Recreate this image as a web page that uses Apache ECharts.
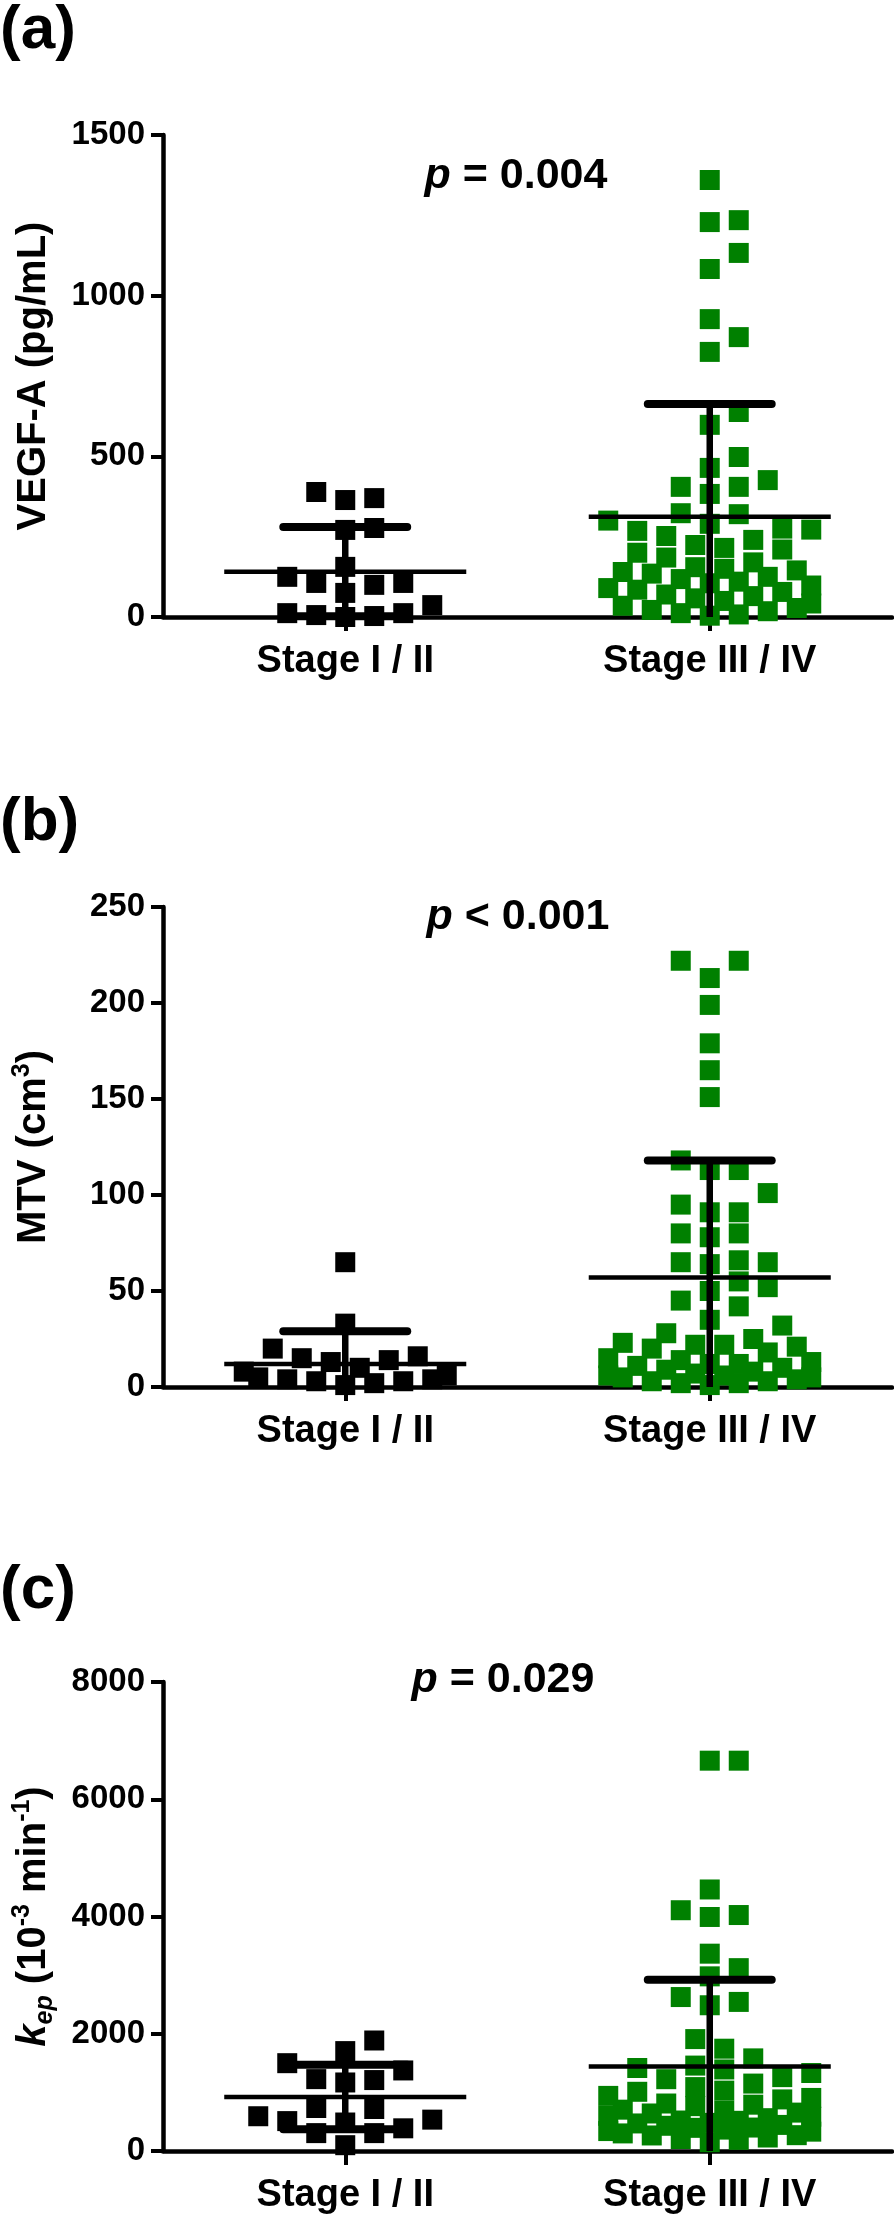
<!DOCTYPE html>
<html>
<head>
<meta charset="utf-8">
<script src="https://cdn.jsdelivr.net/npm/echarts@6/dist/echarts.min.js"></script>
<style>
html,body{margin:0;padding:0;background:#ffffff;}
#chart{width:894px;height:2215px;}
</style>
</head>
<body>
<div id="chart"></div>
<script>
// ---------------- DATA ----------------
const categories = ['Stage I / II', 'Stage III / IV'];
const panelLetters = ['(a)', '(b)', '(c)'];
const pValueTexts = ['{i|p} = 0.004', '{i|p} < 0.001', '{i|p} = 0.029'];
const yAxisMax = [1500, 250, 8000];
const yAxisInterval = [500, 50, 2000];

// (a) VEGF-A (pg/mL)
const vegfStage12 = [389, 370, 364, 277, 271, 156, 125, 106, 100, 106, 75, 37, 12, 6, 0, 3, 12];
const vegfStage34 = [1360, 1235, 1229, 1133, 1083, 927, 871, 825, 638, 598, 498, 464, 426, 405, 405, 383, 323, 320,
  300, 290, 275, 272, 268, 252, 240, 224, 215, 210, 200, 185, 170, 155, 150, 145, 140, 135, 125, 118, 110,
  105, 98, 90, 85, 78, 70, 65, 58, 50, 42, 35, 28, 22, 18, 12, 8, 4];
const vegfMean = [141, 312];
const vegfSD = [139, 351];

// (b) MTV (cm3)
const mtvStage12 = [65, 33, 20, 16, 15, 14, 13, 10, 8, 6, 5, 4, 4, 3, 3, 2, 1];
const mtvStage34 = [222, 222, 213, 199, 179, 165, 151, 118, 113, 113, 101, 95, 91, 91, 80, 80, 78, 66, 65, 65, 64,
  55, 52, 50, 45, 42, 35, 32, 28, 25, 23, 22, 22, 21, 20, 18, 15, 14, 13, 12, 12, 11, 10, 9, 8, 7, 6, 6,
  5, 5, 4, 3, 3, 2, 2, 1];
const mtvMean = [12, 57];
const mtvSD = [17, 61];

// (c) kep (10^-3 min^-1)
const kepStage12 = [1885, 1704, 1498, 1374, 1226, 1210, 1169, 733, 716, 593, 535, 510, 486, 387, 305, 305, 99];
const kepStage34 = [6658, 6658, 4461, 4107, 4025, 3992, 3366, 3119, 2979, 2626, 2543, 2486, 1909, 1745, 1580,
  1457, 1416, 1391, 1330, 1260, 1225, 1150, 1090, 1030, 1010, 940, 905, 880, 810, 790, 765, 705, 690, 655,
  640, 600, 585, 560, 520, 515, 480, 470, 445, 430, 400, 395, 365, 340, 330, 300, 270, 265, 230, 205, 190, 150];
const kepMean = [922, 1440];
const kepSD = [551, 1482];

// ---------------- LAYOUT / STYLE ----------------
const FONT = '"Liberation Sans", Arial, Helvetica, sans-serif';
const GREEN = '#008000';
const GRID_LEFT = 163;
const GRID_W = 729;
const SYMBOL = 20;

const panels = [
  { top: 135, height: 482, s12: vegfStage12, s34: vegfStage34, mean: vegfMean, sd: vegfSD,
    name: '{n|VEGF-A (pg/mL)}', pX: 516, pY: 176, letterY: 0 },
  { top: 907, height: 480, s12: mtvStage12, s34: mtvStage34, mean: mtvMean, sd: mtvSD,
    name: '{n|MTV (cm}{sup|3}{n|)}', pX: 518, pY: 917, letterY: 792 },
  { top: 1682, height: 478, s12: kepStage12, s34: kepStage34, mean: kepMean, sd: kepSD,
    name: '{i|k}{sub|ep}{n| (10}{sup|-3}{n| min}{sup|-1}{n|)}', pX: 503, pY: 1680, letterY: 1560 }
];

const nameRich = {
  n: { fontSize: 40, fontWeight: 'bold', fontFamily: FONT, color: '#000', lineHeight: 48 },
  i: { fontSize: 40, fontWeight: 'bold', fontStyle: 'italic', fontFamily: FONT, color: '#000', lineHeight: 48 },
  sup: { fontSize: 25, fontWeight: 'bold', fontFamily: FONT, color: '#000', lineHeight: 25, verticalAlign: 'top' },
  sub: { fontSize: 25, fontWeight: 'bold', fontStyle: 'italic', fontFamily: FONT, color: '#000', lineHeight: 25, verticalAlign: 'bottom' }
};

// bounded beeswarm: points placed bottom-up in half-step slots within a fixed width;
// the free slot nearest the centre is used, otherwise the slot with least overlap
function swarm(values, center, pxH, max) {
  const step = 14.5, maxK = 7;
  const pxPerX = GRID_W / 2;
  const order = values.map((v, i) => i).sort((a, b) => values[a] - values[b]);
  const cands = [0];
  for (let k = 1; k <= maxK; k++) { cands.push(k, -k); }
  const placed = [];
  const out = [];
  order.forEach(idx => {
    const v = values[idx];
    const py = pxH * (1 - v / max);
    let best = 0, bestCost = Infinity;
    for (const k of cands) {
      const cx = k * step;
      let cost = 0;
      placed.forEach(p => {
        const ox = Math.max(0, SYMBOL - Math.abs(p[0] - cx));
        const oy = Math.max(0, SYMBOL - Math.abs(p[1] - py));
        cost += ox * oy;
      });
      if (cost < bestCost - 1e-6) { bestCost = cost; best = cx; }
      if (cost === 0) break;
    }
    placed.push([best, py]);
    out.push([center + best / pxPerX, v]);
  });
  return out;
}

const grid = [], xAxis = [], yAxis = [], series = [], graphic = [];

panels.forEach((pnl, gi) => {
  grid.push({ left: GRID_LEFT, top: pnl.top, width: GRID_W, height: pnl.height, containLabel: false });
  xAxis.push({
    type: 'category', gridIndex: gi, data: categories, boundaryGap: true,
    axisLine: { show: true, lineStyle: { color: '#000', width: 4.5 } },
    axisTick: { show: true, alignWithLabel: true, length: 14, lineStyle: { color: '#000', width: 4 } },
    axisLabel: { color: '#000', fontSize: 38, fontWeight: 'bold', fontFamily: FONT, margin: 26 },
    splitLine: { show: false }, z: 1
  });
  xAxis.push({ type: 'value', gridIndex: gi, min: 0, max: 2, show: false });
  yAxis.push({
    type: 'value', gridIndex: gi, min: 0, max: yAxisMax[gi], interval: yAxisInterval[gi],
    axisLine: { show: true, lineStyle: { color: '#000', width: 4.5 } },
    axisTick: { show: true, length: 12, lineStyle: { color: '#000', width: 4 } },
    axisLabel: { color: '#000', fontSize: 33, fontWeight: 'bold', fontFamily: FONT, margin: 18,
      formatter: function (v) { return String(v); } },
    splitLine: { show: false },
    name: pnl.name, nameLocation: 'middle', nameGap: 105,
    nameTextStyle: { rich: nameRich, fontSize: 40, fontWeight: 'bold', fontFamily: FONT, color: '#000' }
  });
  const valueXIndex = gi * 2 + 1;
  series.push({
    type: 'scatter', xAxisIndex: valueXIndex, yAxisIndex: gi, symbol: 'rect', symbolSize: SYMBOL,
    itemStyle: { color: '#000', opacity: 1 }, data: swarm(pnl.s12, 0.5, pnl.height, yAxisMax[gi]), z: 3, silent: true
  });
  series.push({
    type: 'scatter', xAxisIndex: valueXIndex, yAxisIndex: gi, symbol: 'rect', symbolSize: SYMBOL,
    itemStyle: { color: GREEN, opacity: 1 }, data: swarm(pnl.s34, 1.5, pnl.height, yAxisMax[gi]), z: 3, silent: true
  });
  series.push({
    type: 'custom', xAxisIndex: valueXIndex, yAxisIndex: gi, z: 5, silent: true,
    data: [[0.5, pnl.mean[0], pnl.sd[0]], [1.5, pnl.mean[1], pnl.sd[1]]],
    renderItem: function (params, api) {
      const x = api.value(0), m = api.value(1), s = api.value(2);
      const pm = api.coord([x, m]);
      const pt = api.coord([x, m + s]);
      const lowV = m - s;
      const pb = api.coord([x, Math.max(0, lowV)]);
      const unit = GRID_W / 2;
      const meanHalf = 0.332 * unit, capHalf = 0.17 * unit;
      const children = [
        { type: 'line', shape: { x1: pm[0], y1: pt[1], x2: pm[0], y2: pb[1] }, style: { stroke: '#000', lineWidth: 6.5 } },
        { type: 'line', shape: { x1: pm[0] - capHalf, y1: pt[1], x2: pm[0] + capHalf, y2: pt[1] }, style: { stroke: '#000', lineWidth: 8, lineCap: 'round' } },
        { type: 'line', shape: { x1: pm[0] - meanHalf, y1: pm[1], x2: pm[0] + meanHalf, y2: pm[1] }, style: { stroke: '#000', lineWidth: 4.5 } }
      ];
      if (lowV > 0) {
        children.push({ type: 'line', shape: { x1: pm[0] - capHalf, y1: pb[1], x2: pm[0] + capHalf, y2: pb[1] }, style: { stroke: '#000', lineWidth: 8, lineCap: 'round' } });
      }
      return { type: 'group', children: children };
    }
  });
  graphic.push({
    type: 'text', left: 0, top: pnl.letterY, silent: true,
    style: { text: panelLetters[gi], fill: '#000', fontSize: 62, fontWeight: 'bold', fontFamily: FONT }
  });
  graphic.push({
    type: 'text', x: pnl.pX, y: pnl.pY, silent: true,
    style: {
      text: pValueTexts[gi], fill: '#000', fontSize: 43, fontWeight: 'bold', fontFamily: FONT,
      align: 'center', verticalAlign: 'middle',
      rich: { i: { fontSize: 43, fontWeight: 'bold', fontStyle: 'italic', fontFamily: FONT, fill: '#000' } }
    }
  });
});

const chart = echarts.init(document.getElementById('chart'), null, { renderer: 'canvas' });
chart.setOption({
  animation: false,
  backgroundColor: '#ffffff',
  grid: grid, xAxis: xAxis, yAxis: yAxis, series: series, graphic: graphic
});
</script>
</body>
</html>
